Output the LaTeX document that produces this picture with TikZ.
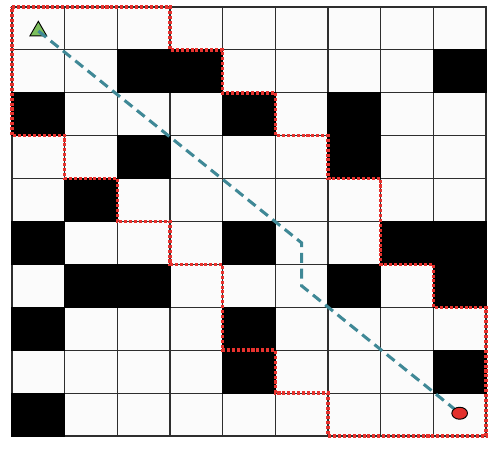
\documentclass[tikz,border=0pt]{standalone}
\usetikzlibrary{shapes.geometric}
\definecolor{gridInk}{HTML}{2E2E2E}
\definecolor{cellPaper}{HTML}{FBFBFB}
\definecolor{routeTeal}{HTML}{3F8896}
\definecolor{bndRed}{HTML}{E8322E}
\definecolor{startGreen}{HTML}{7CBF5C}
\definecolor{goalRed}{HTML}{E3302C}

\begin{document}
\begin{tikzpicture}[x=1.58cm, y=-1.287cm,
  cell/.style={fill=cellPaper, draw=gridInk, line width=0.9pt},
  wall/.style={fill=black, draw=black, line width=0.9pt},
  frontier/.style={draw=bndRed, line width=3pt, dash pattern=on 2.6pt off 1.6pt},
  route/.style={draw=routeTeal, line width=2.6pt, dash pattern=on 8.5pt off 5pt},
  startmark/.style={regular polygon, regular polygon sides=3, draw=black, fill=startGreen, line width=0.8pt, minimum size=0.58cm, inner sep=0pt},
  goalmark/.style={ellipse, draw=black, fill=goalRed, line width=0.8pt, minimum width=0.47cm, minimum height=0.36cm, inner sep=0pt},
]
\useasboundingbox (-0.228,-0.163) rectangle (9.076,10.396);
% ---- grid ----
\foreach \c in {0,...,8}{\foreach \r in {0,...,9}{\draw[cell] (\c,\r) rectangle ++(1,1);}}
% ---- obstacles ----
\foreach \c/\r in {2/1,3/1,8/1,0/2,4/2,6/2,2/3,6/3,1/4,0/5,4/5,7/5,8/5,1/6,2/6,6/6,8/6,0/7,4/7,4/8,8/8,0/9}{
  \draw[wall] (\c,\r) rectangle ++(1,1);
}
% ---- explored region boundary ----
\draw[frontier] (0,0) -- (3,0) -- (3,1) -- (4,1) -- (4,2) -- (5,2) -- (5,3) -- (6,3) -- (6,4) -- (7,4) -- (7,6) -- (8,6) -- (8,7) -- (9,7) -- (9,10)
  -- (6,10) -- (6,9) -- (5,9) -- (5,8) -- (4,8) -- (4,6) -- (3,6) -- (3,5) -- (2,5) -- (2,4) -- (1,4) -- (1,3) -- (0,3) -- cycle;
% ---- start, goal and route ----
\node[startmark] (start) at (0.5,0.56){};
\coordinate (turnA) at (5.5,5.5);
\coordinate (turnB) at (5.5,6.5);
\draw[route] (start.center) -- (turnA) -- (turnB) -- (8.5,9.47);
\node[goalmark] (goal) at (8.5,9.47){};
\end{tikzpicture}
\end{document}
